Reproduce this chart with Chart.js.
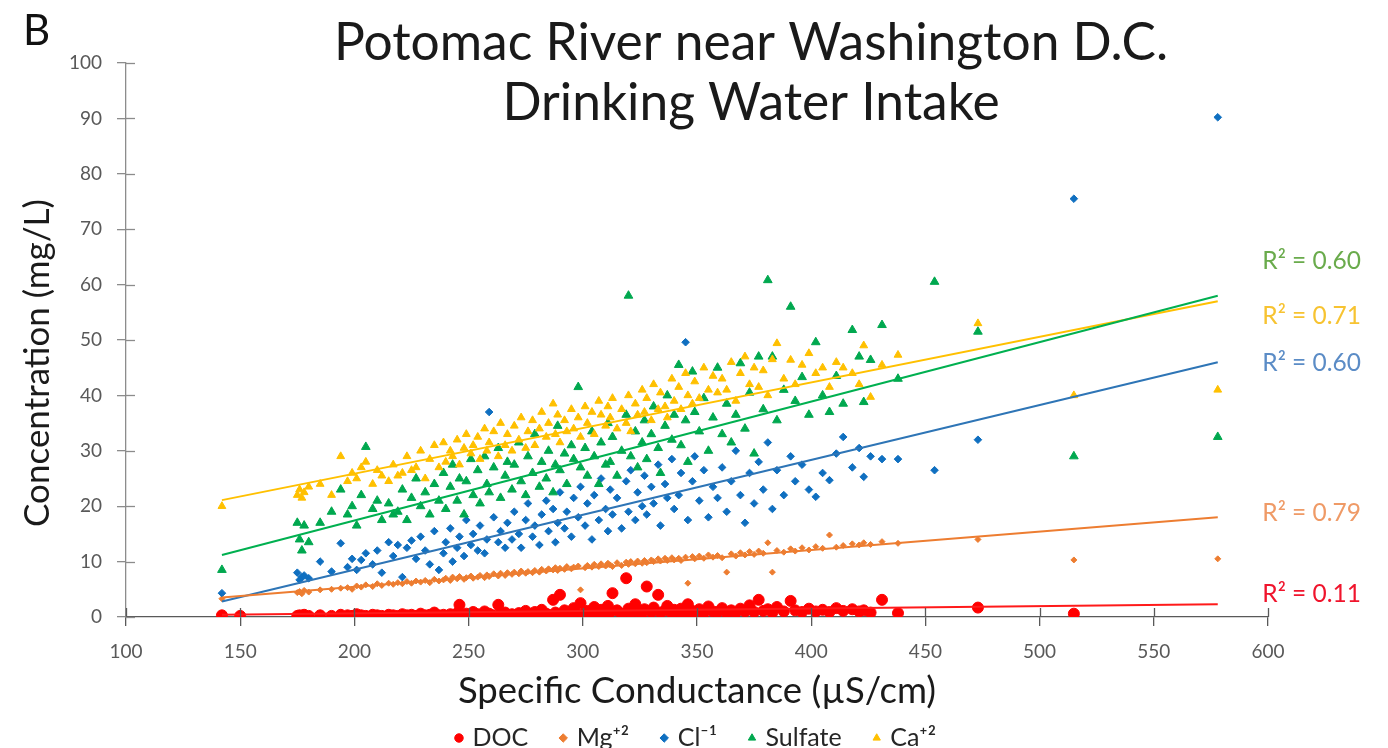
<!DOCTYPE html>
<html>
<head>
<meta charset="utf-8">
<script src="https://cdn.jsdelivr.net/npm/chart.js@4.4.1/dist/chart.umd.min.js"></script>
<style>
  html, body { margin: 0; padding: 0; background: #fff; }
</style>
</head>
<body>
<canvas id="chart" width="1388" height="748"></canvas>
<script>
// samples: specific conductance (µS/cm) and concentrations (mg/L)
const conductance = [
  142, 150, 175, 176, 177, 178, 180, 185, 190, 194,
  197, 199, 201, 203, 205, 208, 210, 212, 215, 217,
  219, 221, 223, 225, 227, 229, 231, 233, 235, 237,
  239, 240, 242, 243, 245, 246, 248, 249, 251, 252,
  254, 255, 257, 258, 259, 261, 263, 264, 266, 267,
  269, 270, 272, 273, 275, 276, 278, 279, 281, 282,
  284, 285, 287, 288, 289, 290, 292, 293, 295, 296,
  298, 299, 301, 302, 304, 305, 307, 308, 310, 311,
  312, 313, 315, 317, 319, 320, 321, 323, 324, 326,
  327, 328, 330, 331, 333, 334, 336, 337, 339, 340,
  342, 343, 345, 346, 348, 349, 351, 353, 355, 357,
  359, 361, 363, 365, 367, 369, 371, 373, 375, 377,
  379, 381, 383, 385, 388, 391, 393, 396, 399, 402,
  405, 408, 411, 414, 418, 421, 423, 426, 431, 438,
  454, 473, 515, 578
];

const docValues = [
  0.3, 0.2, 0.2, 0.3, 0.1, 0.4, 0.2, 0.3, 0.2, 0.4,
  0.3, 0.2, 0.5, 0.3, 0.2, 0.4, 0.3, 0.2, 0.4, 0.3,
  0.2, 0.5, 0.3, 0.4, 0.2, 0.6, 0.3, 0.4, 0.8, 0.3,
  0.4, 0.2, 0.5, 0.3, 0.7, 2.2, 0.4, 0.6, 0.3, 0.9,
  0.5, 0.3, 1.0, 0.4, 0.6, 0.3, 2.2, 0.5, 0.8, 0.4,
  0.5, 0.3, 0.7, 0.4, 1.1, 0.6, 0.3, 0.9, 0.5, 1.3,
  0.6, 0.4, 3.1, 0.8, 0.5, 4.0, 1.2, 0.6, 0.9, 1.6,
  0.5, 2.5, 0.7, 1.1, 0.6, 1.8, 0.8, 1.3, 0.5, 2.0,
  0.9, 4.3, 1.2, 0.6, 7.0, 1.5, 0.8, 2.3, 1.0, 0.7,
  1.4, 5.5, 0.9, 1.7, 4.0, 0.8, 1.2, 2.0, 0.7, 1.3,
  0.9, 1.5, 0.6, 2.3, 1.1, 0.8, 1.4, 0.7, 1.9, 1.0,
  0.9, 1.6, 0.7, 1.2, 0.8, 1.5, 1.0, 2.1, 0.9, 3.1,
  1.1, 1.4, 0.8, 1.8, 1.0, 2.9, 1.2, 0.9, 1.5, 1.0,
  1.3, 0.9, 1.6, 1.1, 1.4, 1.0, 1.2, 0.8, 3.1, 0.7,
  null, 1.7, 0.6, null
];

const mgValues = [
  3.3, null, 4.4, 4.6, 4.2, 4.8, 4.5, 4.9, 5.0, 5.2,
  5.3, 5.0, 5.6, 5.4, 5.8, 5.5, 6.0, 5.7, 6.1, 5.9,
  6.2, 6.0, 6.4, 6.1, 6.5, 6.3, 6.6, 6.2, 6.8, 6.5,
  6.7, 7.0, 6.6, 7.2, 6.9, 7.3, 6.8, 7.1, 7.4, 7.0,
  7.2, 7.5, 7.1, 7.6, 7.3, 7.8, 7.4, 7.9, 7.5, 8.0,
  7.7, 8.1, 7.8, 8.3, 7.9, 8.2, 8.0, 8.4, 8.1, 8.6,
  8.3, 8.7, 8.5, 8.9, 8.4, 8.8, 8.6, 9.1, 8.7, 9.0,
  9.2, 4.9, 8.9, 9.3, 9.0, 9.5, 9.1, 9.6, 9.2, 9.7,
  9.4, 9.1, 9.8, 9.3, 9.9, 9.5, 10.0, 9.6, 10.1, 9.7,
  10.2, 9.8, 10.3, 10.0, 10.5, 10.1, 10.6, 10.2, 10.7, 10.3,
  10.6, 10.2, 10.8, 6.1, 10.9, 10.5, 11.0, 10.6, 11.2, 10.8,
  11.1, 10.7, 8.1, 11.4, 11.0, 11.6, 11.2, 11.8, 11.3, 11.9,
  11.5, 13.4, 8.1, 12.0, 11.7, 12.3, 11.9, 12.5, 12.1, 12.7,
  12.4, 14.8, 12.6, 12.9, 13.2, 13.0, 13.4, 13.1, 13.6, 13.3,
  null, 14.0, 10.3, 10.5
];

const clValues = [
  4.3, null, 8.0, 6.7, 7.2, 7.5, 7.0, 10.0, 8.2, 13.3,
  9.0, 10.5, 8.5, 10.3, 11.5, 9.5, 12.0, 8.0, 13.5, 11.0,
  13.0, 7.2, 12.5, 13.8, 10.5, 14.5, 12.0, 9.5, 15.5, 8.5,
  11.5, 13.5, 16.0, 10.0, 12.5, 14.5, 11.0, 17.5, 13.0, 15.0,
  12.0, 16.5, 11.5, 14.0, 37.0, 18.0, 13.5, 15.5, 12.5, 17.0,
  14.0, 19.0, 15.0, 12.5, 17.5, 20.5, 14.5, 16.5, 13.0, 18.5,
  21.0, 15.5, 19.5, 13.5, 17.0, 22.5, 16.0, 19.0, 14.5, 21.5,
  18.0, 23.5, 16.5, 20.5, 14.0, 22.0, 17.5, 25.0, 19.5, 15.5,
  23.0, 18.5, 21.5, 16.0, 24.5, 19.0, 26.5, 17.5, 22.5, 20.0,
  25.5, 18.5, 23.5, 20.5, 27.5, 16.5, 24.0, 21.5, 28.5, 19.5,
  22.0, 26.0, 49.6, 17.5, 24.5, 29.0, 21.0, 26.5, 18.0, 23.5,
  21.5, 27.0, 19.0, 24.5, 30.0, 22.0, 17.0, 26.0, 20.5, 28.0,
  23.0, 31.5, 19.5, 26.5, 22.0, 29.0, 24.5, 27.5, 23.0, 21.7,
  26.0, 24.7, 29.5, 32.5, 27.0, 30.5, 25.3, 29.0, 28.5, 28.5,
  26.5, 32.0, 75.5, 90.2
];

const sulfateValues = [
  8.5, null, 17.0, 14.0, 12.0, 16.5, 13.5, 17.0, 19.0, 23.0,
  18.5, 20.0, 16.5, 22.0, 30.7, 19.5, 21.0, 17.5, 20.5, 18.5,
  19.0, 23.0, 17.5, 21.5, 25.0, 20.0, 22.5, 18.5, 24.0, 21.0,
  26.0, 19.5, 23.5, 27.5, 21.0, 25.0, 18.5, 24.5, 28.5, 22.0,
  26.5, 20.5, 29.0, 24.0, 22.5, 27.0, 30.5, 21.5, 25.5, 28.0,
  23.0, 27.5, 31.5, 24.5, 22.0, 29.0, 26.0, 33.0, 23.5, 28.0,
  25.0, 30.0, 22.5, 27.5, 34.5, 26.5, 29.5, 24.0, 31.0, 28.5,
  41.5, 27.0, 30.5, 25.5, 33.5, 29.0, 24.0, 31.5, 27.5, 35.0,
  28.0, 32.5, 25.5, 30.0, 36.5, 58.0, 29.0, 33.5, 27.0, 31.5,
  35.5, 28.5, 33.0, 38.0, 30.5, 26.0, 34.5, 40.0, 32.0, 36.5,
  45.5, 31.0, 35.5, 28.0, 44.3, 37.0, 33.5, 39.5, 30.0, 36.0,
  45.0, 33.0, 38.5, 31.5, 36.5, 45.8, 34.0, 40.5, 29.5, 47.0,
  37.5, 60.8, 47.0, 35.5, 41.0, 56.0, 39.0, 43.3, 36.5, 49.6,
  40.0, 37.0, 43.5, 38.5, 51.8, 47.0, 38.8, 46.4, 52.7, 43.0,
  60.5, 51.5, 29.0, 32.5
];

const caValues = [
  20.0, null, 22.0, 23.0, 21.5, 22.5, 23.5, 24.0, 22.0, 29.0,
  24.5, 26.0, 25.0, 27.0, 28.0, 24.0, 26.5, 25.5, 24.5, 27.5,
  25.5, 26.0, 29.0, 26.5, 27.0, 30.0, 25.0, 28.5, 31.0, 27.0,
  31.5, 28.0, 30.0, 29.0, 32.0, 27.5, 30.5, 33.0, 29.5, 31.0,
  32.5, 28.5, 34.0, 30.0, 31.5, 33.5, 29.0, 35.0, 31.0, 33.0,
  30.0, 34.5, 32.0, 36.0, 30.5, 33.5, 35.5, 31.0, 34.0, 37.0,
  32.5, 35.0, 38.5, 33.0, 36.5, 31.5, 35.5, 33.5, 37.5, 34.0,
  36.0, 32.5, 38.0, 35.0, 37.0, 33.0, 39.0, 36.5, 34.5, 38.0,
  36.0, 39.5, 34.0, 37.5, 35.0, 40.0, 33.5, 38.5, 36.5, 41.0,
  37.0, 39.5, 35.5, 42.0, 37.5, 40.5, 38.0, 36.0, 43.0, 39.0,
  41.5, 37.5, 44.0, 40.0, 38.5, 42.5, 39.5, 45.0, 41.0, 43.5,
  40.5, 43.0, 41.0, 46.0, 39.0, 44.0, 47.0, 42.0, 45.0, 41.5,
  44.5, 40.0, 46.5, 49.4, 43.0, 46.4, 42.0, 45.5, 47.6, 44.0,
  45.0, 41.5, 46.0, 45.0, 44.0, 42.0, 49.0, 39.7, 45.5, 47.3,
  null, 53.0, 40.0, 41.0
];

// linear trend lines, end values read at the first and last sample
const trendX = [142, 578];
const docTrend = [0.4, 2.3];
const mgTrend = [3.5, 18.0];
const clTrend = [2.8, 46.0];
const sulfateTrend = [11.2, 58.0];
const caTrend = [21.1, 57.0];

const r2Labels = ['R² = 0.60', 'R² = 0.71', 'R² = 0.60', 'R² = 0.79', 'R² = 0.11'];
const r2Colors = ['#6aab4c', '#f7c331', '#5b8cc6', '#ef9a66', '#f0142c'];
const r2At = [64.2, 54.4, 45.8, 18.8, 4.2];

const titleLines = ['Potomac River near Washington D.C.', 'Drinking Water Intake'];
const yTitle = 'Concentration (mg/L)';

function toPoints(values) {
  return conductance
    .map((x, i) => ({ x: x, y: values[i] }))
    .filter(p => p.y !== null);
}

function trendPoints(ends) {
  return trendX.map((x, i) => ({ x: x, y: ends[i] }));
}

function scatterSet(label, values, color, style, radius, order) {
  return {
    label: label,
    data: toPoints(values),
    pointStyle: style,
    pointRadius: radius,
    backgroundColor: color,
    borderColor: color,
    borderWidth: 1,
    order: order
  };
}

function trendSet(ends, color) {
  return {
    label: 'trend',
    data: trendPoints(ends),
    showLine: true,
    pointRadius: 0,
    borderColor: color,
    borderWidth: 2,
    order: 0
  };
}

const axisGrey = '#8c8c8c';

const overlay = {
  id: 'overlay',
  afterDraw(chart) {
    const ctx = chart.ctx;
    const xs = chart.scales.x;
    const ys = chart.scales.y;
    const area = chart.chartArea;
    ctx.save();

    // inner halves of the tick marks (Excel style crossing ticks)
    ctx.lineWidth = 1.3;
    ctx.strokeStyle = '#595959';
    xs.ticks.forEach(t => {
      const px = Math.round(xs.getPixelForValue(t.value)) + 0.5;
      ctx.beginPath();
      ctx.moveTo(px, area.bottom);
      ctx.lineTo(px, area.bottom - 9);
      ctx.stroke();
    });
    ctx.strokeStyle = axisGrey;
    ys.ticks.forEach(t => {
      const py = Math.round(ys.getPixelForValue(t.value)) + 0.5;
      ctx.beginPath();
      ctx.moveTo(area.left, py);
      ctx.lineTo(area.left + 9, py);
      ctx.stroke();
    });

    ctx.fillStyle = '#111';
    ctx.textBaseline = 'alphabetic';
    ctx.textAlign = 'left';
    ctx.font = '42px Lato';
    ctx.fillText('B', 23, 45);

    ctx.textAlign = 'center';
    ctx.font = '51.5px Lato';
    ctx.fillStyle = '#1a1a1a';
    ctx.fillText(titleLines[0], 751, 60);
    ctx.fillText(titleLines[1], 751, 120);

    // y axis title, rotated
    ctx.save();
    ctx.translate(38, 363);
    ctx.rotate(-Math.PI / 2);
    ctx.textBaseline = 'middle';
    ctx.font = '35px Lato';
    ctx.fillText(yTitle, 0, 0);
    ctx.restore();

    ctx.textAlign = 'left';
    ctx.textBaseline = 'middle';
    ctx.font = '24.5px Lato';
    r2Labels.forEach((txt, i) => {
      ctx.fillStyle = r2Colors[i];
      ctx.fillText(txt, xs.getPixelForValue(597.5), ys.getPixelForValue(r2At[i]));
    });
    ctx.restore();
  }
};

new Chart(document.getElementById('chart'), {
  type: 'scatter',
  data: {
    datasets: [
      scatterSet('DOC', docValues, '#ff0000', 'circle', 5.5, 5),
      scatterSet('Mg⁺²', mgValues, '#ed7d31', 'rectRot', 3, 4),
      scatterSet('Cl⁻¹', clValues, '#0f6fc0', 'rectRot', 3.8, 3),
      scatterSet('Sulfate', sulfateValues, '#00a84f', 'triangle', 5, 2),
      scatterSet('Ca⁺²', caValues, '#ffc000', 'triangle', 4.5, 1),
      trendSet(docTrend, '#ff1a1a'),
      trendSet(mgTrend, '#ed7d31'),
      trendSet(clTrend, '#2e75b6'),
      trendSet(sulfateTrend, '#00b050'),
      trendSet(caTrend, '#ffc000')
    ]
  },
  options: {
    responsive: false,
    animation: false,
    layout: { padding: { top: 63, right: 120, left: 0, bottom: -12.5 } },
    plugins: {
      tooltip: { enabled: false },
      legend: {
        position: 'bottom',
        fullSize: false,
        labels: {
          usePointStyle: true,
          boxWidth: 2,
          boxHeight: 6,
          padding: 34,
          color: '#262626',
          font: { family: 'Lato', size: 25 },
          filter: item => item.datasetIndex < 5,
          sort: (a, b) => a.datasetIndex - b.datasetIndex
        }
      }
    },
    scales: {
      x: {
        type: 'linear',
        min: 100,
        max: 600,
        afterFit: scale => { scale.height = 74.5; },
        ticks: { stepSize: 50, color: '#595959', padding: 14, font: { family: 'Lato', size: 19 } },
        grid: { drawOnChartArea: false, tickLength: 9, color: '#595959', lineWidth: 1.3 },
        border: { color: '#595959', width: 1.3 },
        title: {
          display: true,
          text: 'Specific Conductance (µS/cm)',
          color: '#1a1a1a',
          font: { family: 'Lato', size: 36.5 },
          padding: { top: 0, bottom: -21.5 }
        }
      },
      y: {
        min: 0,
        max: 100,
        afterFit: scale => { scale.width = 126; },
        ticks: { stepSize: 10, color: '#595959', padding: 15, font: { family: 'Lato', size: 19 } },
        grid: { drawOnChartArea: false, tickLength: 9, color: axisGrey, lineWidth: 1.3 },
        border: { color: axisGrey, width: 1.3 }
      }
    }
  },
  plugins: [overlay]
});
</script>
</body>
</html>
